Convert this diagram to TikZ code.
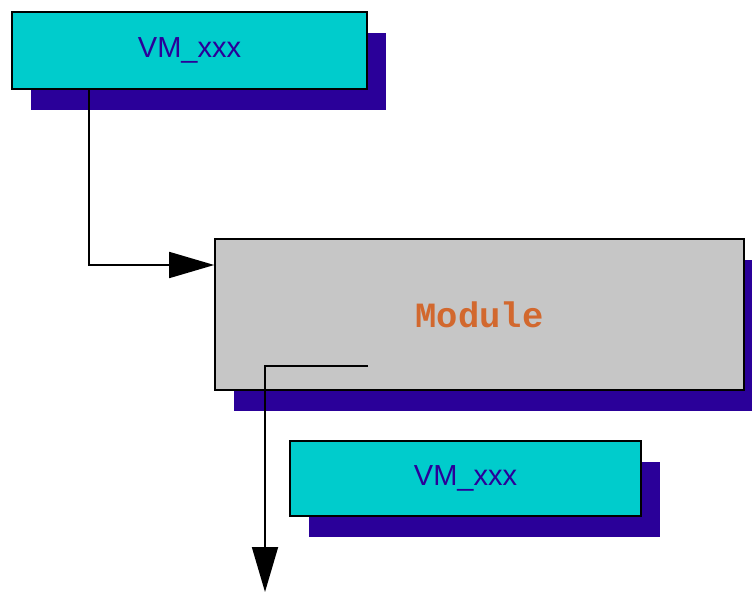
\documentclass[tikz,border=0pt]{standalone}
\usepackage{fontspec}
\setmainfont{Liberation Sans}
\newfontfamily\modfont{Liberation Mono}
\usetikzlibrary{arrows.meta,shadows}
\definecolor{boxcyan}{HTML}{00CCCC}
\definecolor{shade}{HTML}{2A0099}
\definecolor{modgray}{HTML}{C6C6C6}
\definecolor{modtext}{HTML}{D2682E}
\definecolor{vmtext}{HTML}{2A0099}
\tikzset{
  shadowed/.style={draw=black, line width=1.6pt, rectangle, inner sep=0pt,
    drop shadow={shadow xshift=19pt, shadow yshift=-21pt, fill=shade, opacity=1}},
  vmbox/.style={shadowed, fill=boxcyan, text=vmtext, font=\fontsize{29}{33}\selectfont},
  modbox/.style={shadowed, fill=modgray, text=modtext, font=\modfont\bfseries\fontsize{35.5}{40}\selectfont},
  arr/.style={draw=black, line width=1.8pt, -{Triangle[length=45pt, width=26pt]}},
}
\begin{document}
\begin{tikzpicture}[x=1pt, y=-1pt]
  \useasboundingbox (0,0) rectangle (752,594);
  % blocks
  \node[vmbox, minimum width=355pt, minimum height=77pt] (vm1) at (189.5,50.5) {VM\_xxx};
  \node[modbox, minimum width=529pt, minimum height=151pt] (module) at (479.5,314.5) {Module};
  \node[vmbox, minimum width=351pt, minimum height=75pt] (vm2) at (465.5,478.5) {VM\_xxx};
  % connectors
  \coordinate (mout) at (368,366);
  \coordinate (outend) at (265,592);
  \draw[arr] (vm1.south -| 89,0) |- (module.west |- 0,265);
  \draw[arr] (mout) -| (outend);
\end{tikzpicture}
\end{document}
